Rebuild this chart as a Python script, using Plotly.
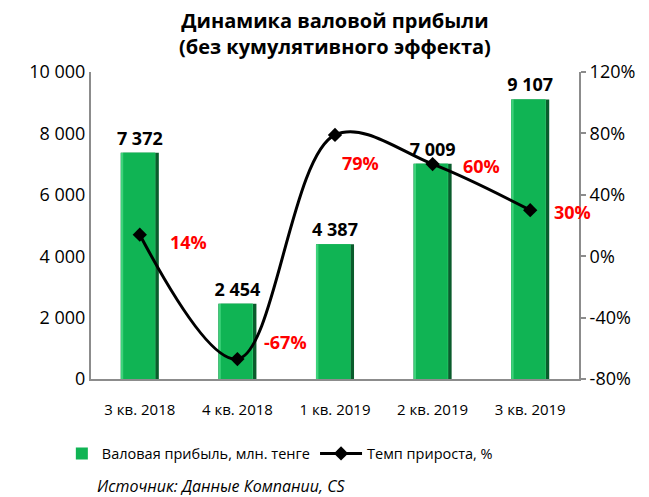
import plotly.graph_objects as go

categories = ["3 кв. 2018", "4 кв. 2018", "1 кв. 2019", "2 кв. 2019", "3 кв. 2019"]
gross_profit = [7372, 2454, 4387, 7009, 9107]
growth_pct = [14, -67, 79, 60, 30]
growth_labels = ["14%", "-67%", "79%", "60%", "30%"]
left_ticks = [0, 2000, 4000, 6000, 8000, 10000]
left_ticktext = ["0", "2 000", "4 000", "6 000", "8 000", "10 000"]
right_ticks = [-80, -40, 0, 40, 80, 120]
right_ticktext = ["-80%", "-40%", "0%", "40%", "80%", "120%"]

# label offsets (pixels) for the growth labels
label_dx = [28, 25, 5, 28, 22]
label_dy = [-7, 17, -28, -2, -2]

FONT = "Open Sans, sans-serif"

fig = go.Figure()
# dark base (right shadow edge) + value labels
fig.add_trace(go.Bar(
    x=categories, y=gross_profit, name="base", showlegend=False,
    marker=dict(color="#0A5C2C", line=dict(width=0)),
    width=0.39, offset=-0.195,
    texttemplate="<b>%{y:,.0f}</b>", textposition="outside", constraintext="none",
    textfont=dict(size=18, color="black", family=FONT),
    cliponaxis=False, hoverinfo="skip",
))
# light left edge
fig.add_trace(go.Bar(
    x=categories, y=gross_profit, name="edge", showlegend=False,
    marker=dict(color="#3DD27A", line=dict(width=0)),
    width=0.355, offset=-0.195, hoverinfo="skip",
))
# main face
fig.add_trace(go.Bar(
    x=categories, y=gross_profit, name="Валовая прибыль, млн. тенге",
    marker=dict(color="#10B454", line=dict(width=0)),
    width=0.325, offset=-0.17, legend="legend",
))
fig.add_trace(go.Scatter(
    x=categories, y=growth_pct, name="Темп прироста, %", yaxis="y2",
    mode="lines+markers",
    line=dict(color="black", width=3, shape="spline", smoothing=1.0),
    marker=dict(symbol="diamond", size=11, color="black"),
    cliponaxis=False, legend="legend2",
))

annotations = []
for c, v, t, dx, dy in zip(categories, growth_pct, growth_labels, label_dx, label_dy):
    annotations.append(dict(x=c, y=v, xref="x", yref="y2", text="<b>" + t + "</b>",
                            showarrow=False, xanchor="left", yanchor="middle",
                            xshift=dx, yshift=dy,
                            font=dict(size=18, color="#FF0000", family=FONT)))
annotations.append(dict(text="<b>Динамика валовой прибыли<br>(без кумулятивного эффекта)</b>",
                        xref="paper", yref="paper", x=0.5, y=1.125,
                        xanchor="center", yanchor="middle", showarrow=False,
                        font=dict(size=20, family=FONT)))
annotations.append(dict(text="<i>Источник: Данные Компании, CS</i>", xref="paper", yref="paper",
                        x=0.268, y=-0.348, xanchor="center", yanchor="middle", showarrow=False,
                        font=dict(size=16, family=FONT)))

fig.update_layout(
    width=641, height=489,
    margin=dict(l=83, r=70, t=64, b=118, autoexpand=False),
    paper_bgcolor="white", plot_bgcolor="white",
    separators=", ",
    barmode="overlay",
    font=dict(family=FONT, size=16, color="black"),
    xaxis=dict(range=[-0.5, 4.5], showline=True, linecolor="#8C8C8C", linewidth=2, ticks="",
               tickfont=dict(size=15), showgrid=False, automargin=False,
               ticklabelstandoff=16),
    yaxis=dict(range=[0, 10000], tickvals=left_ticks, ticktext=left_ticktext,
               showline=True, linecolor="#8C8C8C", linewidth=2, showgrid=False,
               zeroline=False, ticks="", tickfont=dict(size=18), automargin=False),
    yaxis2=dict(range=[-80, 120], tickvals=right_ticks, ticktext=right_ticktext,
                overlaying="y", side="right", showline=True, linecolor="#8C8C8C",
                linewidth=2, showgrid=False, zeroline=False, ticks="outside",
                ticklen=5, tickcolor="#8C8C8C", tickwidth=2, tickfont=dict(size=18),
                automargin=False),
    legend=dict(orientation="h", x=0.084, xanchor="left", xref="container",
                y=0.089, yanchor="middle", yref="container",
                font=dict(size=14.5)),
    legend2=dict(orientation="h", x=0.479, xanchor="left", xref="container",
                 y=0.089, yanchor="middle", yref="container", itemwidth=42,
                 font=dict(size=14.5)),
    showlegend=True,
    annotations=annotations,
)

fig.write_html("out.html")
